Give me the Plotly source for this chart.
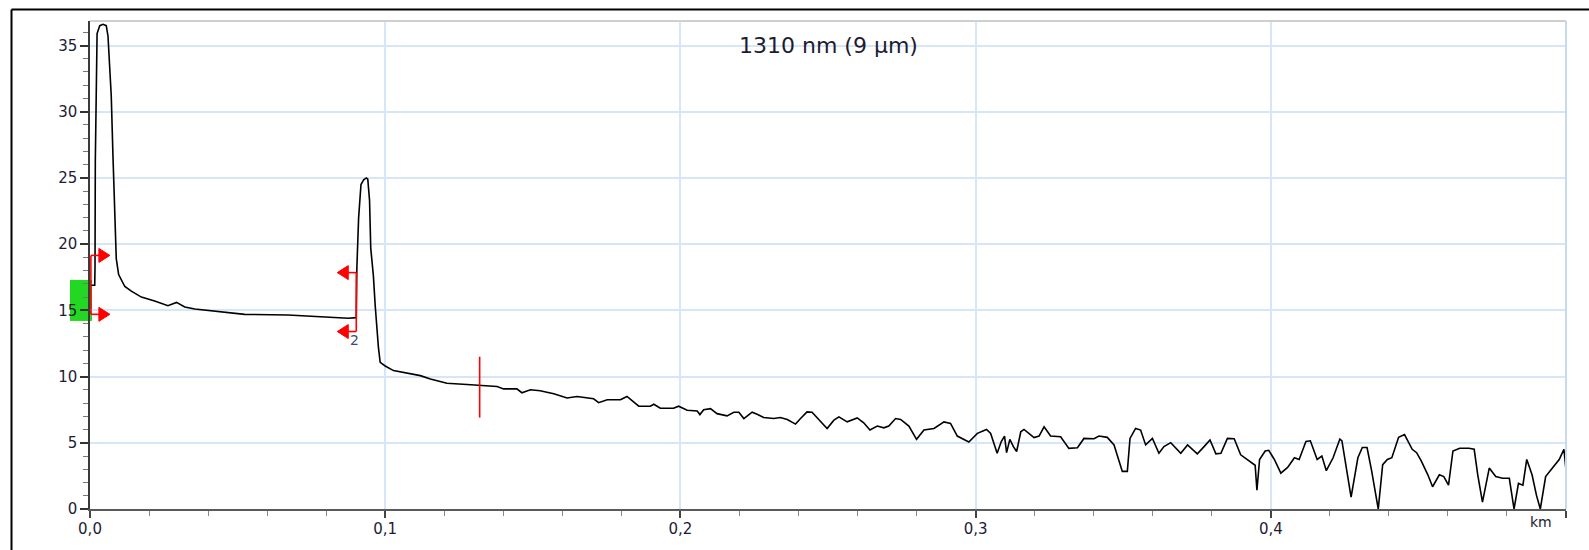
import plotly.graph_objects as go

# OTDR trace: distance along the fibre (km) and backscatter level (dB)
distance_km = [
    0.0003, 0.0016, 0.0017, 0.0018, 0.0024, 0.0033, 0.0044, 0.0055, 0.0061, 0.0067,
    0.0072, 0.0078, 0.0084, 0.0089, 0.0097, 0.0106, 0.0118, 0.0140, 0.0174, 0.0219,
    0.0264, 0.0293, 0.0321, 0.0355, 0.0423, 0.0524, 0.0671, 0.0784, 0.0875,
    0.0902, 0.0904, 0.0910, 0.0918, 0.0927, 0.0936, 0.0941, 0.0947, 0.0951, 0.0960,
    0.0966, 0.0972, 0.0977, 0.0983, 0.1000, 0.1028, 0.1074, 0.1119, 0.1153, 0.1209,
    0.1277, 0.1320,
    0.1379, 0.1401, 0.1446, 0.1463, 0.1492, 0.1525, 0.1571, 0.1616, 0.1650, 0.1706,
    0.1723, 0.1752, 0.1797,
    0.1819, 0.1836, 0.1859, 0.1898, 0.1910, 0.1932, 0.1977, 0.1994, 0.2023, 0.2057,
    0.2066, 0.2079, 0.2102, 0.2124, 0.2158, 0.2181, 0.2198, 0.2215, 0.2243, 0.2260,
    0.2282, 0.2316, 0.2339, 0.2362, 0.2390, 0.2407, 0.2429, 0.2446, 0.2475, 0.2497,
    0.2520, 0.2537, 0.2565, 0.2599, 0.2621, 0.2642, 0.2667, 0.2689, 0.2706,
    0.2729, 0.2746, 0.2774, 0.2800, 0.2825, 0.2859, 0.2893, 0.2915, 0.2938, 0.2977,
    0.3006, 0.3037, 0.3051, 0.3073, 0.3087, 0.3098, 0.3105, 0.3116, 0.3128, 0.3139,
    0.3153, 0.3164, 0.3198, 0.3215, 0.3232, 0.3254, 0.3288, 0.3316, 0.3345, 0.3367,
    0.3401, 0.3418, 0.3446, 0.3469, 0.3486, 0.3497, 0.3514, 0.3523, 0.3542, 0.3559,
    0.3576, 0.3599, 0.3621, 0.3638, 0.3661, 0.3695, 0.3718, 0.3751, 0.3774, 0.3794,
    0.3814, 0.3831, 0.3853, 0.3876, 0.3898,
    0.3927, 0.3947, 0.3953, 0.3962, 0.3981, 0.3993, 0.4012, 0.4034, 0.4057, 0.4080,
    0.4096, 0.4119, 0.4134, 0.4157, 0.4173, 0.4188, 0.4211, 0.4234, 0.4241, 0.4257,
    0.4272, 0.4295, 0.4310, 0.4326, 0.4341, 0.4364, 0.4379, 0.4395, 0.4410, 0.4433,
    0.4453, 0.4479, 0.4494, 0.4510, 0.4532, 0.4548, 0.4571, 0.4586, 0.4602, 0.4617,
    0.4640, 0.4671, 0.4689, 0.4701, 0.4717, 0.4740, 0.4762, 0.4785, 0.4808, 0.4824,
    0.4839, 0.4854, 0.4867, 0.4885, 0.4900, 0.4913, 0.4931, 0.4954, 0.4977, 0.4993,
    0.5000,
]
level_db = [
    16.9, 16.9, 18.3, 26.2, 35.9, 36.5, 36.6, 36.5, 35.7, 33.1,
    31.2, 26.5, 22.3, 18.9, 17.7, 17.3, 16.8, 16.45, 16.0, 15.7,
    15.35, 15.6, 15.25, 15.1, 14.95, 14.7, 14.65, 14.5, 14.4,
    14.45, 18.2, 22.0, 24.5, 24.85, 25.0, 24.9, 23.3, 19.7, 17.6,
    15.4, 13.45, 12.2, 11.07, 10.8, 10.45, 10.25, 10.07, 9.82, 9.5,
    9.4, 9.33,
    9.25, 9.07, 9.07, 8.78, 9.0, 8.93, 8.7, 8.38, 8.5, 8.32,
    8.03, 8.25, 8.25,
    8.5, 8.2, 7.76, 7.76, 7.91, 7.61, 7.61, 7.76, 7.46, 7.4,
    7.13, 7.5, 7.58, 7.2, 7.03, 7.31, 7.31, 6.83, 7.31, 7.16,
    6.91, 6.83, 6.91, 6.76, 6.41, 6.83, 7.33, 7.31, 6.58, 6.08,
    6.71, 6.96, 6.58, 6.88, 6.51, 5.96, 6.26, 6.13, 6.26,
    6.83, 6.76, 6.26, 5.26, 5.96, 6.08, 6.58, 6.46, 5.51, 5.06,
    5.71, 6.01, 5.71, 4.21, 5.09, 5.51, 4.26, 5.26, 4.71, 4.34,
    5.83, 6.01, 5.39, 5.51, 6.21, 5.51, 5.46, 4.58, 4.63, 5.33,
    5.31, 5.51, 5.41, 4.84, 3.72, 2.84, 2.84, 5.33, 6.08, 5.96,
    4.84, 5.33, 4.21, 4.71, 5.01, 4.21, 4.84, 4.16, 4.71, 5.21,
    4.16, 4.21, 5.33, 5.31, 4.09,
    3.66, 3.3, 1.42, 3.74, 4.38, 4.43, 3.74, 2.71, 3.14, 3.87,
    3.74, 5.1, 5.15, 3.74, 4.0, 2.89, 3.87, 5.28, 5.15, 2.84,
    0.9, 3.87, 4.64, 4.64, 2.96, 0.0, 3.35, 3.74, 3.87, 5.41,
    5.62, 4.51, 4.25, 3.61, 2.58, 1.68, 2.58, 2.45, 1.8, 4.38,
    4.59, 4.59, 4.51, 2.58, 0.52, 3.09, 2.45, 2.32, 2.32, 0.0,
    1.93, 1.8, 3.74, 2.58, 1.03, 0.0, 2.45, 3.09, 3.74, 4.51,
    2.96,
]

title_text = "1310 nm (9 µm)"
unit_text = "km"
x_tick_vals = [0.0, 0.1, 0.2, 0.3, 0.4, 0.5]
x_tick_text = ["0,0", "0,1", "0,2", "0,3", "0,4", ""]
y_tick_vals = [0, 5, 10, 15, 20, 25, 30, 35]
y_tick_text = ["0", "5", "10", "15", "20", "25", "30", "35"]

# Event markers: position, lower/upper levels, arrow direction, label
event_km = [0.0003, 0.0902]
event_low_db = [14.7, 13.4]
event_high_db = [19.15, 17.85]
event_dir = [1, -1]
event_label = ["", "2"]
event_label_db = [None, 12.75]

# Cursor line and highlighted section
cursor_km = 0.132
cursor_db = [6.9, 11.5]
section_db = [14.2, 17.3]

W, H = 1589, 550
M_L, M_R, M_T, M_B = 90, 23, 21, 37
PW, PH = W - M_L - M_R, H - M_T - M_B


def px_x(px):
    return (px - M_L) / PW


def px_y(py):
    return (H - M_B - py) / PH


RED = "#ff0000"
TXT = "#1c1c34"
FONT = "DejaVu Sans"

fig = go.Figure()
fig.add_trace(go.Scatter(
    x=distance_km, y=level_db, mode="lines",
    line=dict(color="#000000", width=1.6),
    hoverinfo="skip", showlegend=False,
))

shapes = []
# highlighted section beside the level axis
shapes.append(dict(type="rect", xref="paper", yref="y",
                   x0=px_x(70), x1=px_x(92), y0=section_db[0], y1=section_db[1],
                   fillcolor="#22d822", line=dict(width=0), layer="below"))

for pos, lo, hi, d in zip(event_km, event_low_db, event_high_db, event_dir):
    shapes.append(dict(type="line", xref="x", yref="y", x0=pos, x1=pos, y0=lo, y1=hi,
                       line=dict(color=RED, width=1.6)))
    for lvl in (lo, hi):
        shapes.append(dict(type="path", xref="x", yref="y",
                           xsizemode="pixel", ysizemode="pixel",
                           xanchor=pos, yanchor=lvl,
                           path=f"M0,0 L{9 * d},0",
                           line=dict(color=RED, width=1.6)))
        shapes.append(dict(type="path", xref="x", yref="y",
                           xsizemode="pixel", ysizemode="pixel",
                           xanchor=pos, yanchor=lvl,
                           path=f"M{8 * d},-7 L{19 * d},0 L{8 * d},7 Z",
                           fillcolor=RED, line=dict(color=RED, width=1)))

shapes.append(dict(type="line", xref="x", yref="y", x0=cursor_km, x1=cursor_km,
                   y0=cursor_db[0], y1=cursor_db[1], line=dict(color=RED, width=1.6)))

# plot area borders
shapes.append(dict(type="line", xref="paper", yref="paper", x0=0, x1=1, y0=1, y1=1,
                   line=dict(color="#cfcfcf", width=2)))
shapes.append(dict(type="line", xref="paper", yref="paper", x0=1, x1=1, y0=0, y1=1,
                   line=dict(color="#c6d9ef", width=2)))
# outer window frame
shapes.append(dict(type="line", xref="paper", yref="paper",
                   x0=px_x(11.5), x1=px_x(11.5), y0=px_y(560), y1=px_y(9.5),
                   line=dict(color="#000000", width=2)))
shapes.append(dict(type="line", xref="paper", yref="paper",
                   x0=px_x(11.5), x1=px_x(1600), y0=px_y(9.5), y1=px_y(9.5),
                   line=dict(color="#000000", width=2)))

annotations = [
    dict(text=title_text, xref="paper", yref="paper", x=0.5, y=px_y(46),
         xanchor="center", yanchor="middle", showarrow=False,
         font=dict(family=FONT, size=22, color=TXT)),
    dict(text=unit_text, xref="paper", yref="paper", x=px_x(1541), y=px_y(526),
         xanchor="center", yanchor="middle", showarrow=False,
         font=dict(family=FONT, size=14, color=TXT)),
]
for pos, lab, ly in zip(event_km, event_label, event_label_db):
    if lab:
        annotations.append(dict(text=lab, xref="x", yref="y", x=pos - 0.0007, y=ly,
                                xanchor="center", yanchor="middle", showarrow=False,
                                font=dict(family=FONT, size=14, color="#3a4e78")))

fig.update_layout(
    width=W, height=H,
    margin=dict(l=M_L, r=M_R, t=M_T, b=M_B, pad=0),
    paper_bgcolor="#ffffff", plot_bgcolor="#ffffff",
    shapes=shapes, annotations=annotations,
    showlegend=False,
    font=dict(family=FONT, size=15, color=TXT),
)
fig.update_xaxes(
    range=[0, 0.5], tickvals=x_tick_vals, ticktext=x_tick_text,
    showgrid=True, gridcolor="#d6e5f7", gridwidth=1.5,
    zeroline=False, showline=True, linecolor="#5a5a5a", linewidth=2,
    ticks="outside", ticklen=7, tickwidth=1.5, tickcolor="#444444",
    ticklabelstandoff=-2,
    minor=dict(dtick=0.02, tick0=0, ticks="outside", ticklen=5, tickwidth=1,
               tickcolor="#888888", showgrid=False),
    tickfont=dict(family=FONT, size=15, color=TXT),
    fixedrange=True,
)
fig.update_yaxes(
    range=[0, 36.85], tickvals=y_tick_vals, ticktext=y_tick_text,
    showgrid=True, gridcolor="#d6e5f7", gridwidth=1.5,
    zeroline=False, showline=True, linecolor="#3a3a3a", linewidth=1.5,
    ticks="outside", ticklen=8, tickwidth=1.5, tickcolor="#333333",
    minor=dict(dtick=1, tick0=0, ticks="outside", ticklen=5, tickwidth=1,
               tickcolor="#777777", showgrid=False),
    tickfont=dict(family=FONT, size=15, color=TXT),
    fixedrange=True,
)

fig.write_html("out.html")
